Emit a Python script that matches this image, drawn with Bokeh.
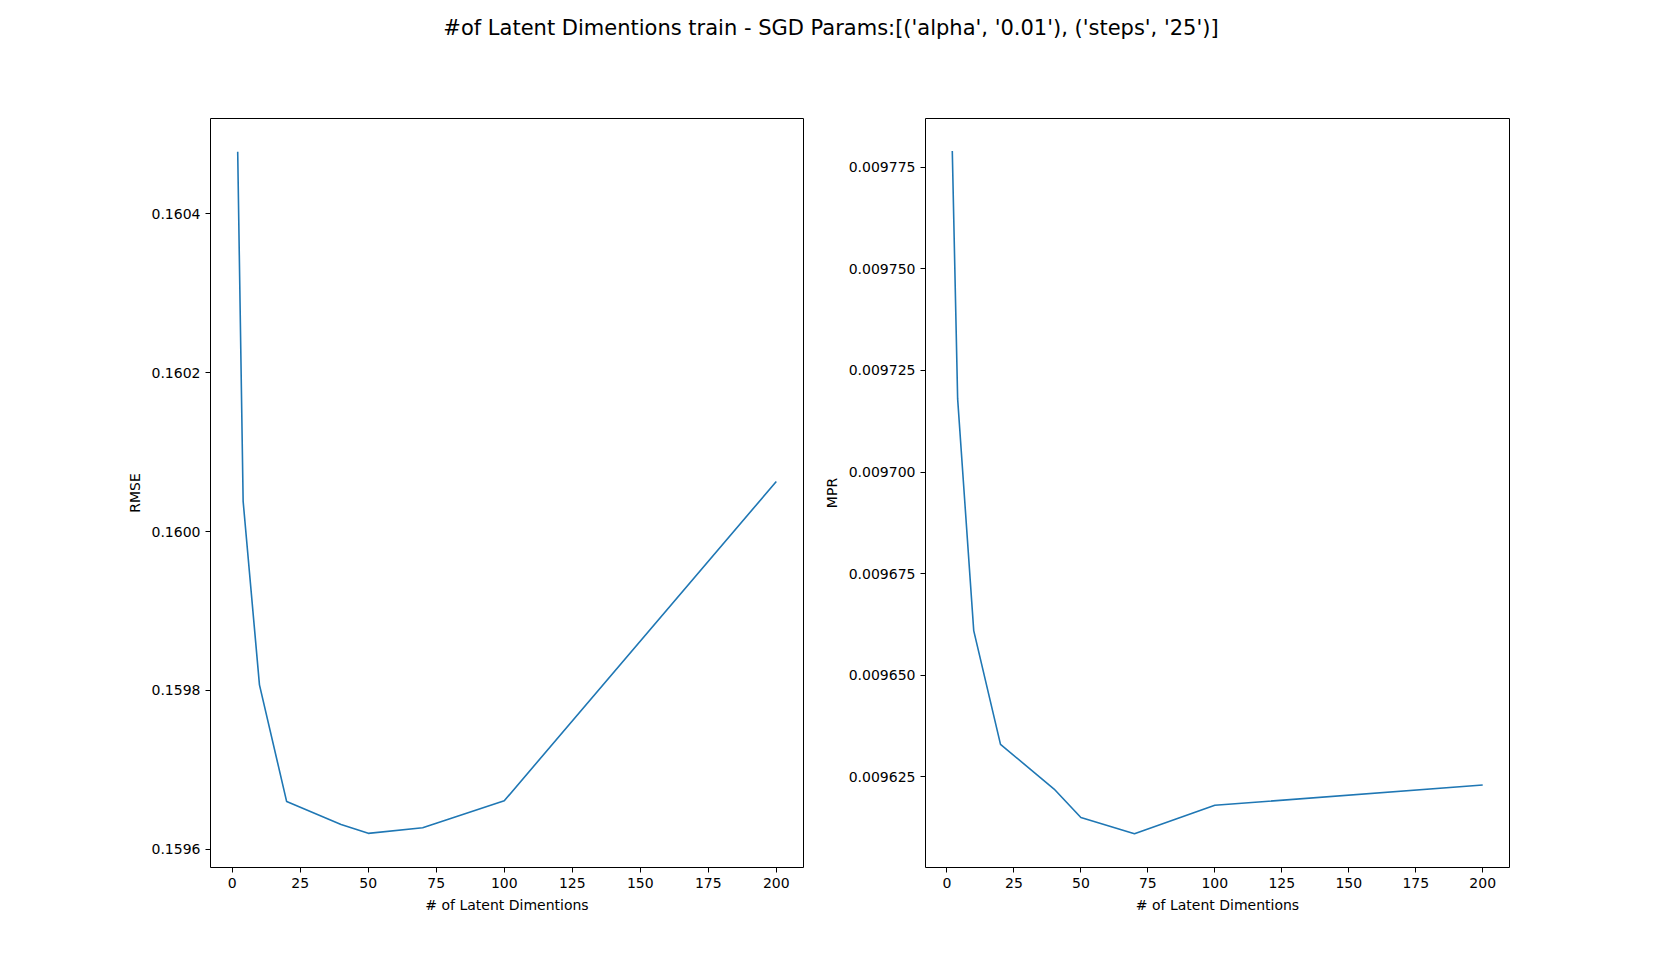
from bokeh.plotting import figure
from bokeh.layouts import column, row
from bokeh.models import Div, Range1d, FixedTicker, PrintfTickFormatter
from bokeh.embed import file_html
from bokeh.resources import INLINE

dims = [2, 4, 10, 20, 40, 50, 70, 100, 200]
rmse = [0.160478, 0.160038, 0.159807, 0.159660, 0.159631, 0.159620, 0.159627, 0.159661, 0.160063]
mpr = [0.009779, 0.009718, 0.009661, 0.009633, 0.009622, 0.009615, 0.009611, 0.009618, 0.009623]
x_ticks = [0, 25, 50, 75, 100, 125, 150, 175, 200]
rmse_ticks = [0.1596, 0.1598, 0.1600, 0.1602, 0.1604]
mpr_ticks = [0.009625, 0.009650, 0.009675, 0.009700, 0.009725, 0.009750, 0.009775]

FONT = "DejaVu Sans"


def make_plot(y, yticks, ylabel, yrange, fmt, left, right, width):
    p = figure(width=width, height=875, output_backend="svg", toolbar_location=None,
               x_range=Range1d(-8, 210), y_range=Range1d(*yrange),
               min_border_left=left, min_border_right=right,
               min_border_top=46, min_border_bottom=80)
    p.line(dims, y, line_color="#1f77b4", line_width=1.6)
    p.grid.grid_line_color = None
    p.outline_line_color = "black"
    p.outline_line_alpha = 1
    p.xaxis.ticker = FixedTicker(ticks=x_ticks)
    p.yaxis.ticker = FixedTicker(ticks=yticks)
    p.yaxis.formatter = PrintfTickFormatter(format=fmt)
    p.xaxis.axis_label = "# of Latent Dimentions"
    p.yaxis.axis_label = ylabel
    for ax in p.axis:
        ax.minor_tick_line_color = None
        ax.axis_line_color = None
        ax.major_tick_out = 5
        ax.major_tick_in = 0
        ax.major_tick_line_color = "black"
        ax.major_label_text_font = FONT
        ax.major_label_text_font_size = "14px"
        ax.major_label_text_color = "black"
        ax.axis_label_text_font = FONT
        ax.axis_label_text_font_size = "14px"
        ax.axis_label_text_color = "black"
        ax.axis_label_text_font_style = "normal"
        ax.axis_label_standoff = 6
    return p


p1 = make_plot(rmse, rmse_ticks, "RMSE", (0.159577, 0.16052), "%.4f", 210, 17, 820)
p2 = make_plot(mpr, mpr_ticks, "MPR", (0.0096027, 0.009787), "%.6f", 96, 140, 829)

title = Div(text="#of Latent Dimentions train - SGD Params:[('alpha', '0.01'), ('steps', '25')]",
            width=1652, height=62,
            styles={"font-family": FONT, "font-size": "21px", "text-align": "center",
                    "width": "1652px", "padding-top": "8px", "color": "black"})

layout = column(title, row(p1, p2))
open("out.html", "w").write(file_html(layout, INLINE))
